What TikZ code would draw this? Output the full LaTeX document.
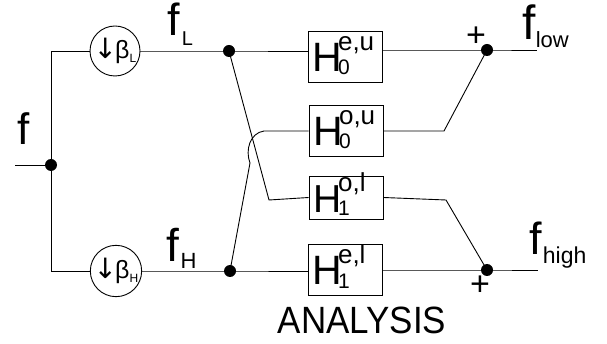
\documentclass[tikz,border=0pt]{standalone}
\usepackage{fontspec}
\setmainfont{Liberation Sans}
\newfontfamily\arrowfont{DejaVu Sans}
\usetikzlibrary{calc}

% font size helper
\newcommand{\fsz}[1]{\fontsize{#1}{#1}\selectfont}
% filter label: H with stacked super- and subscript
\newcommand{\filtlab}[4]{{\fsz{#1}H}\kern-4pt\rlap{\raisebox{21pt}{\fsz{26}#2}}\raisebox{-3pt}{\kern#4\fsz{21}#3}}
% signal label: f with a subscript
\newcommand{\siglab}[5]{{\fsz{#1}f}\kern#5\raisebox{#4}{\fsz{#2}#3}}
% decimation label
\newcommand{\decimlab}[1]{{\arrowfont\fsz{28}↓}\kern-2pt{\fsz{25}β}\raisebox{-4pt}{\fsz{12}#1}}

\begin{document}
\begin{tikzpicture}[x=1pt,y=-1pt,line width=0.9pt,
  dot/.style={circle,fill=black,inner sep=0pt,minimum size=12pt},
  decim/.style={circle,draw,minimum size=50pt,inner sep=0pt},
  filt/.style={draw,minimum width=74pt,minimum height=51pt,inner sep=0pt},
  lab/.style={inner sep=0pt,anchor=base west}]
\useasboundingbox (0,0) rectangle (607,344);

% input junction and branch corners
\coordinate (in) at (15,165);
\node[dot] (j) at (51,165) {};
\coordinate (cU) at (51,51);
\coordinate (cD) at (51,271);

% decimators
\node[decim] (dL) at (115,51) {\decimlab{L}};
\node[decim] (dH) at (116,271) {\decimlab{H}};

% branch points
\node[dot] (tL) at (229,51) {};
\node[dot] (tH) at (230,271) {};

% filters
\node[filt] (b1) at (345,56.5) {};
\node[filt] (b2) at (346,131) {};
\node[filt,minimum height=43pt] (b3) at (346,197.5) {};
\node[filt] (b4) at (345,269.5) {};

\node[lab] (t1) at (312,72) {\filtlab{41}{e,u}{0}{0pt}};
\node[lab] (t2) at (313,146) {\filtlab{41}{o,u}{0}{0pt}};
\node[lab] (t3) at (313.5,213) {\filtlab{39}{o,l}{1}{0pt}};
\node[lab] (t4) at (312,285) {\filtlab{41}{e,l}{1}{0pt}};

% summing points and outputs
\node[dot] (sL) at (487,50) {};
\node[dot] (sH) at (487,270) {};
\coordinate (oL) at (537,50);
\coordinate (oH) at (538,270);

% bends of the crossing paths
\coordinate (kL) at (269,200);
\coordinate (hA) at (250,163);
\coordinate (hB) at (264,131);
\coordinate (kA) at (444,131);
\coordinate (kB) at (446,200);

% wiring
\draw (in) -- (j.center);
\draw (dL) -- (cU) -- (cD) -- (dH);
\draw (dL) -- (tL.center) -- (tL -| b1.west);
\draw (dH) -- (tH.center) -- (tH -| b4.west);
\draw (tL.center) -- (kL) -- (b3.west);
\draw (tH.center) -- (hA) .. controls (245,150) and (250,133) .. (hB) -- (b2.west);
\draw (sL -| b1.east) -- (sL.center) -- (oL);
\draw (b2.east) -- (kA) -- (sL.center);
\draw (b3.east) -- (kB) -- (sH.center);
\draw (sH -| b4.east) -- (sH.center) -- (oH);

% signal labels
\node[lab] (lf) at (17,145) {\fsz{44}f};
\node[lab] (lfL) at (167,36) {\siglab{45}{20}{L}{-10pt}{2pt}};
\node[lab] (lfH) at (166,262) {\siglab{46}{22}{H}{-6pt}{1.5pt}};
\node[lab] (lfl) at (522,40) {\siglab{48}{22}{low}{-8pt}{0pt}};
\node[lab] (lfh) at (529,255) {\siglab{45}{23}{high}{-9pt}{1pt}};
\node[inner sep=0pt] (pL) at (476,37) {\fsz{34}+};
\node[inner sep=0pt] (pH) at (480,286) {\fsz{34}+};

\node[inner sep=0pt,anchor=base] (title) at (362,333) {\scalebox{0.92}[1]{\fsz{38}ANALYSIS}};
\end{tikzpicture}
\end{document}
